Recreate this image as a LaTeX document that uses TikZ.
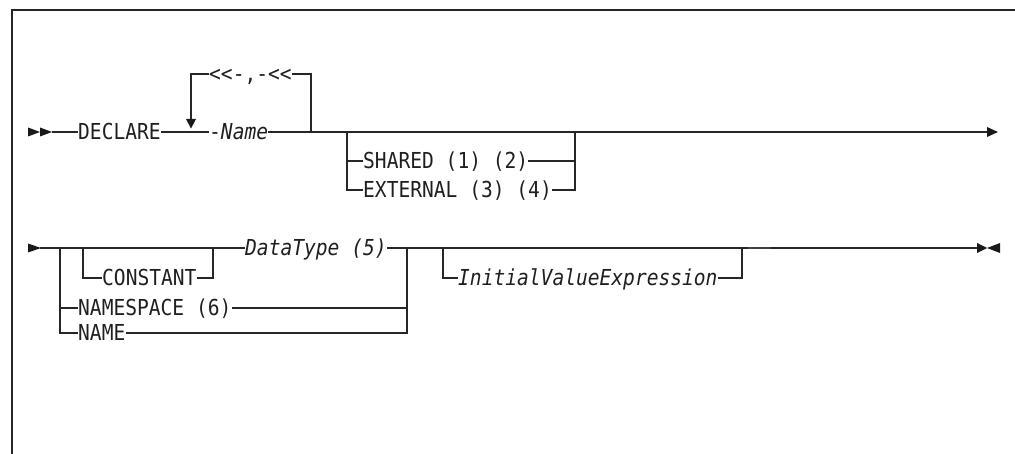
\documentclass[tikz,border=0pt]{standalone}
\usepackage{fontspec}
\newfontfamily\synfont[FakeStretch=0.89]{DejaVu Sans Mono}
\usetikzlibrary{arrows.meta}
\begin{document}
\begin{tikzpicture}[x=1pt,y=1pt,
  syn/.style={inner sep=0pt, anchor=west, font=\synfont\fontsize{22}{24}\selectfont, text height=16pt, text depth=0pt, text=black!88},
  rail/.style={line width=1.3pt, draw=black!85},
  frame/.style={line width=1.8pt, draw=black!85},
  tipfill/.style={fill=black!90}]
\useasboundingbox (0,0) rectangle (1015,-454);
% frame
\coordinate (fb) at (12,-454);
\coordinate (ftl) at (12,-10);
\coordinate (ftr) at (1015,-10);
\draw[frame] (fb) -- (ftl) -- (ftr);

% ---------- row 1 ----------
\coordinate (s1) at (52,-132);
\fill[tipfill] (28,-127.5) -- (40,-132) -- (28,-136.5) -- cycle;
\fill[tipfill] (40,-127.5) -- (52,-132) -- (40,-136.5) -- cycle;
\node[syn] (declare) at (78,-132) {DECLARE};
\node[syn] (name) at (209,-132) {-\textit{Name}};
\node[syn] (sep) at (209,-74) {<<-,-<<};
\coordinate (lpL) at (191,-132);
\coordinate (lpR) at (311,-132);
\coordinate (lpRt) at (311,-74);
\coordinate (lpLt) at (191,-74);
\coordinate (lpTip) at (191,-128.5);
\coordinate (oL) at (347,-132);
\coordinate (oR) at (575,-132);
\node[syn] (shared) at (363,-161) {SHARED (1) (2)};
\node[syn] (external) at (363,-190) {EXTERNAL (3) (4)};
\coordinate (e1) at (987,-132);
\coordinate (e1tip) at (998,-132);

\draw[rail] (s1) -- (declare.west);
\draw[rail] (declare.east) -- (name.west);
\draw[rail] (name.east) -- (e1);
\draw[rail] (lpR) -- (lpRt) -- (sep.east);
\draw[rail] (sep.west) -- (lpLt) -- (191,-119);
\fill[tipfill] (186,-119) -- (196,-119) -- (lpTip) -- cycle;
\draw[rail] (oL) |- (shared.west);
\draw[rail] (oL) |- (external.west);
\draw[rail] (shared.east) -| (oR);
\draw[rail] (external.east) -| (oR);
\fill[tipfill] (e1) ++(0,5) -- (e1tip) -- ++(-11,-5) -- cycle;

% ---------- row 2 ----------
\coordinate (s2) at (40,-248);
\fill[tipfill] (28,-243.5) -- (41,-248) -- (28,-252.5) -- cycle;
\coordinate (bL) at (60,-248);
\coordinate (cL) at (83,-248);
\coordinate (cR) at (213,-248);
\coordinate (bR) at (407,-248);
\node[syn] (constant) at (102,-278) {CONSTANT};
\node[syn] (datatype) at (245,-248) {\textit{DataType (5)}};
\node[syn] (namespace) at (78,-308) {NAMESPACE (6)};
\node[syn] (nm) at (78,-333) {NAME};
\coordinate (iL) at (443,-248);
\coordinate (iR) at (742,-248);
\node[syn] (ive) at (458,-278) {\textit{InitialValueExpression}};
\coordinate (e2) at (977,-248);

\draw[rail] (s2) -- (bL) -- (cL) -- (cR) -- (datatype.west);
\draw[rail] (cL) |- (constant.west);
\draw[rail] (constant.east) -| (cR);
\draw[rail] (datatype.east) -- (bR) -- (iL) -- (iR) -- (e2);
\draw[rail] (bL) |- (namespace.west);
\draw[rail] (bL) |- (nm.west);
\draw[rail] (namespace.east) -- (namespace.east -| bR);
\draw[rail] (nm.east) -| (bR);
\draw[rail] (iL) |- (ive.west);
\draw[rail] (ive.east) -| (iR);
\draw[line width=1.8pt, draw=black!75] (748,-248) -- (771,-248);
\fill[tipfill] (e2) ++(0,5) -- ++(10,-5) -- ++(-10,-5) -- cycle;
\fill[tipfill] (1000,-243) -- (987,-248) -- (1000,-253) -- cycle;
\end{tikzpicture}
\end{document}
